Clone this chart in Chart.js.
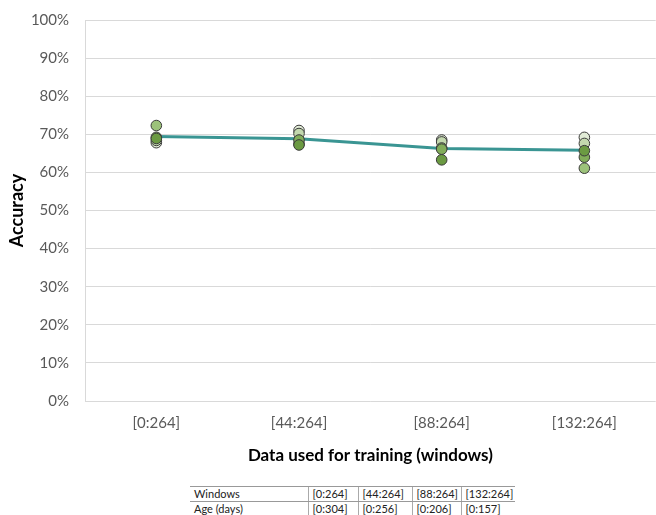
<!DOCTYPE html>
<html>
<head>
<meta charset="utf-8">
<script src="https://cdn.jsdelivr.net/npm/chart.js@4/dist/chart.umd.min.js"></script>
<style>
  html, body { margin: 0; padding: 0; background: #fff; overflow: hidden; width: 656px; height: 515px; }
  /* the plot runs slightly past the right edge, so the canvas is clipped */
  #wrap { position: absolute; left: 0; top: 0; width: 656px; height: 476px; overflow: hidden; }
  #c { display: block; width: 662px; height: 476px; }
  #info { position: absolute; left: 190px; top: 486px; border-collapse: collapse; table-layout: fixed;
          font-family: Lato, "Liberation Sans", sans-serif; font-size: 11px; color: #222; }
  #info td { padding: 0 0 0 4px; height: 14px; line-height: 14px; white-space: nowrap; overflow: hidden; }
  #info tr:first-child td { border-top: 1px solid #999; border-bottom: 1px solid #999; }
  #info td + td { border-left: 1px solid #aaa; }
</style>
</head>
<body>
<div id="wrap"><canvas id="c" width="662" height="476"></canvas></div>
<table id="info">
  <colgroup>
    <col style="width:118px"><col style="width:50px"><col style="width:54px"><col style="width:49px"><col style="width:54px">
  </colgroup>
  <tr id="rowWin"></tr>
  <tr id="rowAge"></tr>
</table>
<script>
// Training windows on the x axis
const categories = ['[0:264]', '[44:264]', '[88:264]', '[132:264]'];
const ageRanges = ['[0:304]', '[0:256]', '[0:206]', '[0:157]'];

// Accuracy (%) of each repeated run per training window
const run1 = [67.8, 71.0, 68.5, 69.2];
const run2 = [68.4, 70.2, 68.0, 67.6];
const run3 = [72.3, 67.5, 66.4, 61.1];
const run4 = [69.2, 68.5, 66.1, 64.0];
const run5 = [68.9, 67.2, 63.3, 65.7];

// Average accuracy per window
const meanAccuracy = [69.4, 68.8, 66.3, 65.8];

const yTicks = [0, 10, 20, 30, 40, 50, 60, 70, 80, 90, 100];

// Small table under the chart
const winRow = document.getElementById('rowWin');
const ageRow = document.getElementById('rowAge');
winRow.innerHTML = '<td>Windows</td>' + categories.map(c => '<td>' + c + '</td>').join('');
ageRow.innerHTML = '<td>Age (days)</td>' + ageRanges.map(c => '<td>' + c + '</td>').join('');

const runs = [run1, run2, run3, run4, run5];
const runColors = ['#e1ebd6', '#c3d8ae', '#9cc27a', '#82ad5a', '#6b9a42'];

const pointSets = runs.map((r, i) => ({
  type: 'line',
  label: 'Run ' + (i + 1),
  data: r,
  showLine: false,
  pointRadius: 5.3,
  pointHoverRadius: 5.3,
  pointBackgroundColor: runColors[i],
  pointBorderColor: '#3a3a3a',
  pointBorderWidth: 1,
  order: 5 - i
}));

const fontFamily = 'Lato, "Liberation Sans", sans-serif';

new Chart(document.getElementById('c'), {
  type: 'line',
  data: {
    labels: categories,
    datasets: [
      {
        label: 'Mean',
        data: meanAccuracy,
        borderColor: '#3a9593',
        borderWidth: 3,
        pointRadius: 0,
        fill: false,
        tension: 0,
        order: 10
      },
      ...pointSets
    ]
  },
  options: {
    responsive: false,
    animation: false,
    events: [],
    layout: { padding: { top: 20, right: 0, bottom: 0, left: 0 } },
    plugins: { legend: { display: false }, tooltip: { enabled: false } },
    scales: {
      x: {
        type: 'category',
        offset: true,
        grid: { display: false, drawTicks: false },
        border: { display: false },
        ticks: { color: '#595959', font: { family: fontFamily, size: 15 }, padding: 13 },
        title: {
          display: true,
          text: 'Data used for training (windows)',
          color: '#000',
          font: { family: fontFamily, size: 17, weight: 'bold' },
          padding: { top: 0, bottom: 10 }
        },
        afterFit(scale) {
          scale.height = 75;
          scale.paddingLeft = 0;
          scale.paddingRight = 0;
        }
      },
      y: {
        min: 0,
        max: 100,
        afterBuildTicks(scale) { scale.ticks = yTicks.map(v => ({ value: v })); },
        grid: { color: '#d9d9d9', lineWidth: 1, drawTicks: false },
        border: { display: true, color: '#d9d9d9' },
        ticks: {
          color: '#595959',
          font: { family: fontFamily, size: 15 },
          padding: 16,
          callback: v => v + '%'
        },
        title: {
          display: true,
          text: 'Accuracy',
          color: '#000',
          font: { family: fontFamily, size: 18, weight: 'bold' },
          padding: { top: 6, bottom: 0 }
        },
        afterFit(scale) {
          scale.width = 85;
          scale.paddingTop = 0;
          scale.paddingBottom = 0;
        }
      }
    }
  }
});
</script>
</body>
</html>
